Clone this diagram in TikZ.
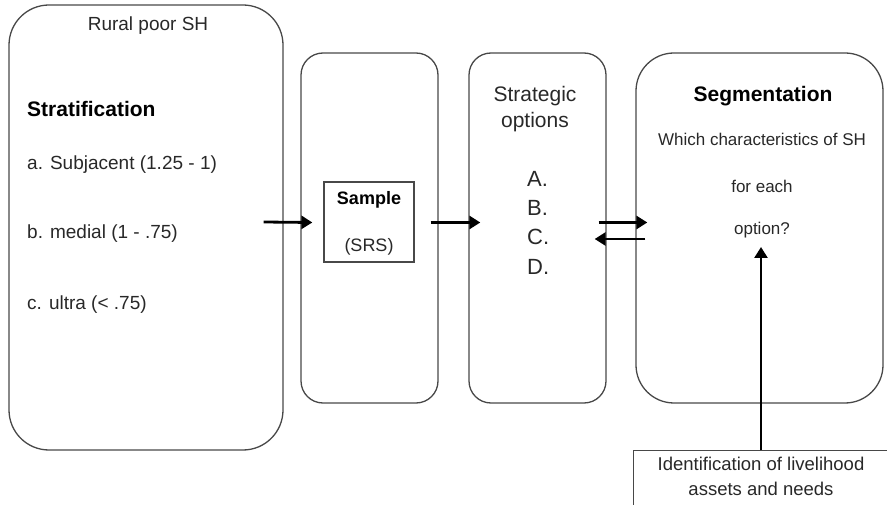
\documentclass[tikz,border=0pt]{standalone}
\usepackage{fontspec}
\setmainfont{Liberation Sans}
\usetikzlibrary{arrows.meta,calc}
\definecolor{txt}{HTML}{282828}
\definecolor{edge}{HTML}{484848}
\tikzset{
  rbox/.style={draw=edge,line width=1.3pt,rounded corners=#1,inner sep=0pt},
  plain/.style={draw=edge,line width=1.1pt,inner sep=0pt},
  lab/.style={anchor=base,inner sep=0pt,text=txt},
  labw/.style={anchor=base west,inner sep=0pt,text=txt},
  flow/.style={line width=2.8pt,-{Triangle[length=11pt,width=13pt]}},
}
\begin{document}
\begin{tikzpicture}[x=1pt,y=-1pt]
\useasboundingbox (0,0) rectangle (887,505);
\clip (0,0) rectangle (887,505);
% boxes
\node[rbox=40pt,minimum width=274pt,minimum height=445pt] (strat) at (146,227.5) {};
\node[rbox=22pt,minimum width=137pt,minimum height=350pt] (samp) at (369.5,228) {};
\node[rbox=22pt,minimum width=137pt,minimum height=350pt] (strg) at (537.5,228) {};
\node[rbox=38pt,minimum width=247pt,minimum height=350pt] (seg) at (759.5,228) {};
\node[plain,minimum width=90pt,minimum height=80pt] (srs) at (369,222) {};
\node[plain,minimum width=300pt,minimum height=90pt,anchor=north west] (idb) at (633,450) {};
% texts left box
\node[lab,font=\fontsize{19}{23}\selectfont] (t1) at (148,31) {Rural poor SH};
\node[labw,font=\fontsize{21}{25}\selectfont\bfseries,text=black] (t2) at (27,117) {Stratification};
\node[labw,font=\fontsize{19}{23}\selectfont] (t3) at (27,170) {a. Subjacent (1.25 - 1)};
\node[labw,font=\fontsize{19}{23}\selectfont] (t4) at (27,239) {b. medial (1 - .75)};
\node[labw,font=\fontsize{19}{23}\selectfont] (t5) at (27,309) {c. ultra (< .75)};
% sample
\node[lab,font=\fontsize{18}{22}\selectfont\bfseries,text=black] (s1) at (369,205) {Sample};
\node[lab,font=\fontsize{18}{22}\selectfont] (s2) at (369,252) {(SRS)};
% strategic
\node[lab,font=\fontsize{21}{25}\selectfont] (g1) at (535,102) {Strategic};
\node[lab,font=\fontsize{21}{25}\selectfont] (g2) at (535,128) {options};
\node[labw,font=\fontsize{22}{26}\selectfont] (gA) at (527,187) {A.};
\node[labw,font=\fontsize{22}{26}\selectfont] (gB) at (527,216) {B.};
\node[labw,font=\fontsize{22}{26}\selectfont] (gC) at (527,245) {C.};
\node[labw,font=\fontsize{22}{26}\selectfont] (gD) at (527,275) {D.};
% segmentation
\node[lab,font=\fontsize{21}{25}\selectfont\bfseries,text=black] (m1) at (763,102) {Segmentation};
\node[lab,font=\fontsize{17}{20}\selectfont] (m2) at (762,146) {Which characteristics of SH};
\node[lab,font=\fontsize{17}{20}\selectfont] (m3) at (762,193) {for each};
\node[lab,font=\fontsize{17}{20}\selectfont] (m4) at (762,235) {option?};
% identification
\node[lab,font=\fontsize{18.5}{22}\selectfont] (i1) at (761,470) {Identification of livelihood};
\node[lab,font=\fontsize{18.5}{22}\selectfont] (i2) at (761,495) {assets and needs};
% arrows
\coordinate (vtop) at (761,247);
\draw[flow] ($(strat.east)+(-20,-5.5)$) -- ($(samp.west)+(12,-5.5)$);
\draw[flow] ($(samp.east)+(-8,-5.5)$) -- ($(strg.west)+(12,-5.5)$);
\draw[flow] ($(strg.east)+(-8,-5.5)$) -- ($(seg.west)+(12,-5.5)$);
\draw[flow] ($(seg.west)+(10,11)$) -- ($(strg.east)+(-12,11)$);
\draw[flow,line width=2.5pt] (idb.north west -| vtop) -- (vtop);
\end{tikzpicture}
\end{document}
